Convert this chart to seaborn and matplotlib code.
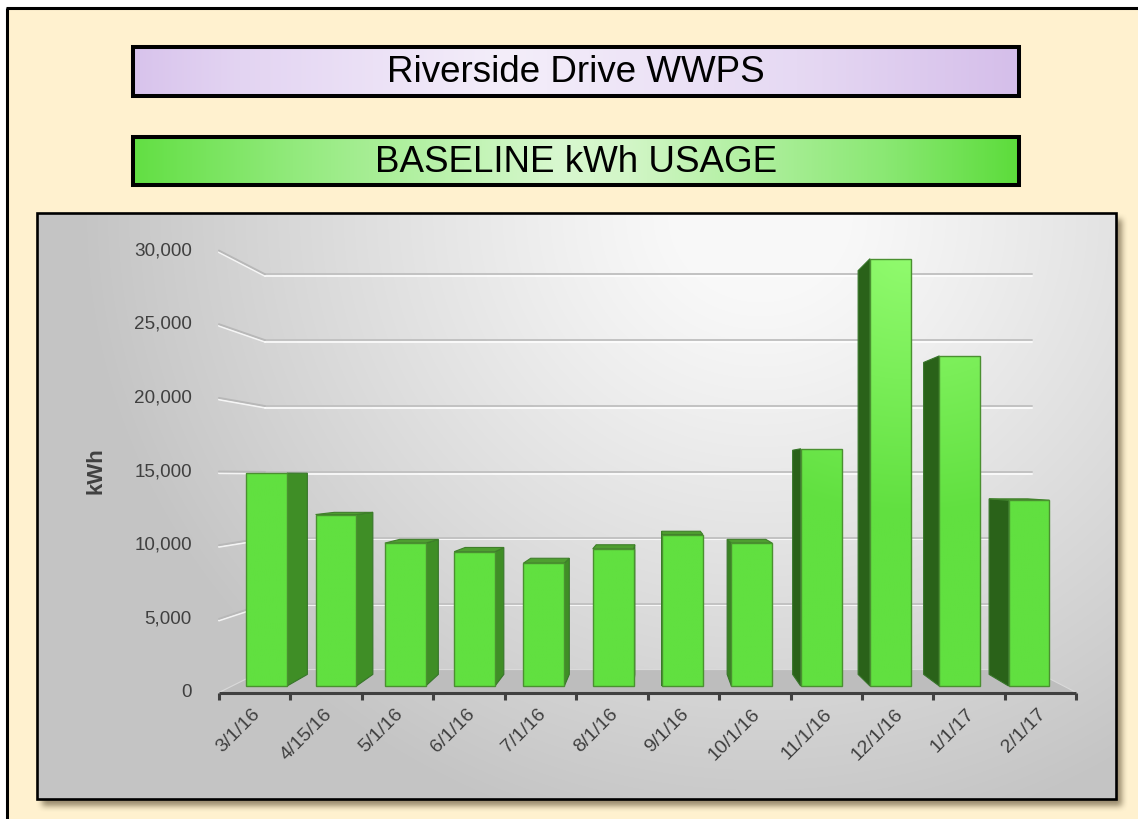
import numpy as np
import pandas as pd
import matplotlib
matplotlib.use("Agg")
import matplotlib.pyplot as plt
import matplotlib.patheffects as pe
import seaborn as sns
from matplotlib.patches import Polygon, Rectangle
from matplotlib.colors import to_rgb

# ---- data -------------------------------------------------------------
dates = ["3/1/16", "4/15/16", "5/1/16", "6/1/16", "7/1/16", "8/1/16",
         "9/1/16", "10/1/16", "11/1/16", "12/1/16", "1/1/17", "2/1/17"]
kwh = [14900, 12000, 10000, 9400, 8600, 9600,
       10600, 10000, 16600, 29900, 23100, 13000]
y_ticks = [0, 5000, 10000, 15000, 20000, 25000, 30000]
y_tick_labels = ["0", "5,000", "10,000", "15,000", "20,000", "25,000", "30,000"]
title_top = "Riverside Drive WWPS"
title_sub = "BASELINE kWh USAGE"
y_label = "kWh"

# ---- figure -----------------------------------------------------------
W, H, DPI = 1138, 819, 100
sns.set_theme(style="white")
plt.rcParams["font.family"] = ["Liberation Sans", "DejaVu Sans"]

fig = plt.figure(figsize=(W / DPI, H / DPI), dpi=DPI)
fig.patch.set_facecolor("white")

# decoration layer in pixel units
canvas = fig.add_axes([0, 0, 1, 1])
canvas.set_zorder(1)
canvas.axis("off")

canvas.add_patch(Rectangle((7.5, 7.5), W, H, fc="#FFF1CF", ec="none", zorder=0))
canvas.plot([7.5, 7.5], [7.5, H + 5], color="black", lw=2.2, solid_capstyle="butt", zorder=0.5)
canvas.plot([6, W + 5], [7.5, 7.5], color="black", lw=2.2, solid_capstyle="butt", zorder=0.5)


def hgrad(stops, n=600):
    pos = [s[0] for s in stops]
    cols = np.array([to_rgb(s[1]) for s in stops])
    xs = np.linspace(0, 1, n)
    img = np.stack([np.interp(xs, pos, cols[:, k]) for k in range(3)], axis=-1)
    return img[None, :, :]


def title_box(x0, y0, x1, y1, stops, text):
    canvas.imshow(hgrad(stops), extent=(x0, x1, y1, y0), origin="upper",
                  aspect="auto", interpolation="bilinear", zorder=2)
    canvas.add_patch(Rectangle((x0, y0), x1 - x0, y1 - y0, fc="none",
                               ec="black", lw=2.9, zorder=3))
    canvas.text((x0 + x1) / 2, (y0 + y1) / 2 + 1, text, ha="center", va="center",
                fontsize=26.5, color="black", zorder=4)


title_box(133, 47, 1019, 95.5,
          [(0, "#D8C3EC"), (0.12, "#E3D4F2"), (0.42, "#F4EEFA"),
           (0.75, "#E6D9F3"), (1, "#D5BEEA")], title_top)
title_box(133, 137, 1019, 185,
          [(0, "#62DF43"), (0.18, "#92EA7C"), (0.48, "#D8F8CF"),
           (0.56, "#D2F6C7"), (0.85, "#8AE873"), (1, "#5CDC3B")], title_sub)

# chart panel: soft drop shadow, gradient fill, border
bx0, by0, bx1, by1 = 37, 213, 1116, 799
sx0, sy0, sx1, sy1 = bx0 + 5, by0 + 6, bx1 + 5, by1 + 6
pad = 20
gx = np.arange(sx0 - pad, sx1 + pad)
gy = np.arange(sy0 - pad, sy1 + pad)
mask = ((gx[None, :] >= sx0) & (gx[None, :] <= sx1) &
        (gy[:, None] >= sy0) & (gy[:, None] <= sy1)).astype(float)
kern = np.ones(7) / 7
for _ in range(2):
    mask = np.apply_along_axis(lambda m: np.convolve(m, kern, mode="same"), 1, mask)
    mask = np.apply_along_axis(lambda m: np.convolve(m, kern, mode="same"), 0, mask)
shadow = np.zeros(mask.shape + (4,))
shadow[..., :3] = (0.33, 0.28, 0.18)
shadow[..., 3] = mask * 0.6
canvas.imshow(shadow, extent=(gx[0], gx[-1] + 1, gy[-1] + 1, gy[0]), origin="upper",
              aspect="auto", interpolation="bilinear", zorder=1)

px = np.arange(bx0, bx1)
py = np.arange(by0, by1)
X, Y = np.meshgrid(px, py)
t = np.clip(np.sqrt(((X - 760) / 680.0) ** 2 + ((Y - 215) / 640.0) ** 2), 0, 1)
t = np.clip((t - 0.12) / 0.88, 0, 1) ** 1.1
lum = 0.975 - (0.975 - 0.77) * t
panel = np.repeat(lum[..., None], 3, axis=2)
canvas.imshow(panel, extent=(bx0, bx1, by1, by0), origin="upper", aspect="auto",
              interpolation="bilinear", zorder=2)
canvas.add_patch(Rectangle((bx0, by0), bx1 - bx0, by1 - by0, fc="none",
                           ec="black", lw=1.9, zorder=3))

canvas.text(96, 471, y_label, rotation=90, ha="center", va="center",
            fontsize=16, fontweight="bold", color="#404040", zorder=4)

canvas.set_xlim(0, W)
canvas.set_ylim(H, 0)

# ---- chart layer ------------------------------------------------------
X0PX, DXPX, Y0PX, PXV = 266.7, 69.3, 686.0, 0.01429
ax = fig.add_axes([0, 0, 1, 1])
ax.set_zorder(2)
ax.patch.set_alpha(0)

df = pd.DataFrame({"date": dates, "kwh": kwh})
sns.barplot(data=df, x="date", y="kwh", ax=ax, color="#61E040", saturation=1,
            width=0.59, edgecolor="#4A9030", linewidth=1.0, errorbar=None, zorder=3)

# one-point perspective: vanishing point in bar-face data units
CX, CY = 5.6, 14765.0
R_FRONT, R_BACK, R_WALL = 1.031, 0.945, 0.922
c_lo, c_hi = -0.5, len(dates) - 0.5


def proj(c, v, r):
    return CX + r * (c - CX), CY + r * (v - CY)


# floor
floor = [proj(c_lo, 0, R_FRONT), proj(c_hi, 0, R_FRONT),
         proj(c_hi, 0, R_WALL), proj(c_lo, 0, R_WALL)]
ax.add_patch(Polygon(floor, closed=True, fc="#BDBDBD", ec="#DADADA", lw=0.8, zorder=1))

# back-wall gridlines and left-wall connectors
emboss = [pe.SimpleLineShadow(offset=(0, -1.2), shadow_color="white", alpha=0.8, rho=1),
          pe.Normal()]
for v in y_ticks[1:]:
    xa, ya = proj(c_lo, v, R_WALL)
    xb, yb = proj(c_hi, v, R_WALL)
    xf, yf = proj(c_lo, v, R_FRONT)
    ax.plot([xa, xb], [ya, yb], color="#C2C2C2", lw=1.4, zorder=1.5,
            solid_capstyle="round", path_effects=emboss)
    ax.plot([xf, xa], [yf, ya], color="#B8B8B8", lw=1.4, zorder=1.5,
            solid_capstyle="round", path_effects=emboss)

# 3-D side and top faces derived from each bar, plus shaded front faces
base = np.array(to_rgb("#61E040"))
light = np.array(to_rgb("#93FC70"))
for p in list(ax.patches):
    if not isinstance(p, Rectangle):
        continue
    L, B = p.get_x(), p.get_y()
    R, T = L + p.get_width(), B + p.get_height()
    mid = (L + R) / 2
    if mid < CX:
        edge, side_col = R, "#3F8E26"
    else:
        edge, side_col = L, "#2A6219" if mid > CX + 2 else "#3A8424"
    side = [(edge, B), (edge, T), proj(edge, T, R_BACK), proj(edge, B, R_BACK)]
    ax.add_patch(Polygon(side, closed=True, fc=side_col, ec="#37752A", lw=0.8, zorder=2.5))
    if T < CY:
        top = [(L, T), (R, T), proj(R, T, R_BACK), proj(L, T, R_BACK)]
        ax.add_patch(Polygon(top, closed=True, fc="#4E9E30", ec="#3F7F2A", lw=0.8, zorder=2.6))

    ny, nx = 80, 12
    cc = np.linspace(L, R, nx)
    vv = np.linspace(B, T, ny)
    C, V = np.meshgrid(cc, vv)
    tt = np.clip(1 - np.sqrt(((C - 9.3) / 4.5) ** 2 + ((V - 31000) / 19000) ** 2), 0, 1)
    img = base[None, None, :] + (light - base)[None, None, :] * tt[..., None]
    im = ax.imshow(img, extent=(L, R, B, T), origin="lower", aspect="auto",
                   interpolation="bilinear", zorder=3.05)
    im.set_clip_path(p)
    p.set_facecolor("none")
    p.set_zorder(3.2)

# front axis line with tick marks at category boundaries
fa = proj(c_lo, 0, R_FRONT)
fb = proj(c_hi, 0, R_FRONT)
ax.plot([fa[0], fb[0]], [fa[1], fb[1]], color="#404040", lw=2.2,
        solid_capstyle="butt", zorder=4)
tick_len = 7 / PXV
for b in np.arange(c_lo, c_hi + 0.01, 1.0):
    bx, by = proj(b, 0, R_FRONT)
    ax.plot([bx, bx], [by, by - tick_len], color="#404040", lw=2.2,
            solid_capstyle="butt", zorder=4)

# value labels on the front-left edge
for v, lab in zip(y_ticks, y_tick_labels):
    ax.annotate(lab, xy=proj(c_lo, v, R_FRONT), xytext=(-27, 0),
                textcoords="offset pixels", ha="right", va="center",
                fontsize=13.6, color="#404040", zorder=5)

# date labels
for i, lab in enumerate(dates):
    ax.annotate(lab, xy=proj(i, 0, R_FRONT), xytext=(-3, -13),
                textcoords="offset pixels", ha="right", va="top", rotation=45,
                rotation_mode="anchor", fontsize=14, color="#404040", zorder=5)

ax.set_xlim(-X0PX / DXPX, (W - X0PX) / DXPX)
ax.set_ylim((Y0PX - H) / PXV, Y0PX / PXV)
ax.axis("off")

fig.savefig("out.png", dpi=DPI)
